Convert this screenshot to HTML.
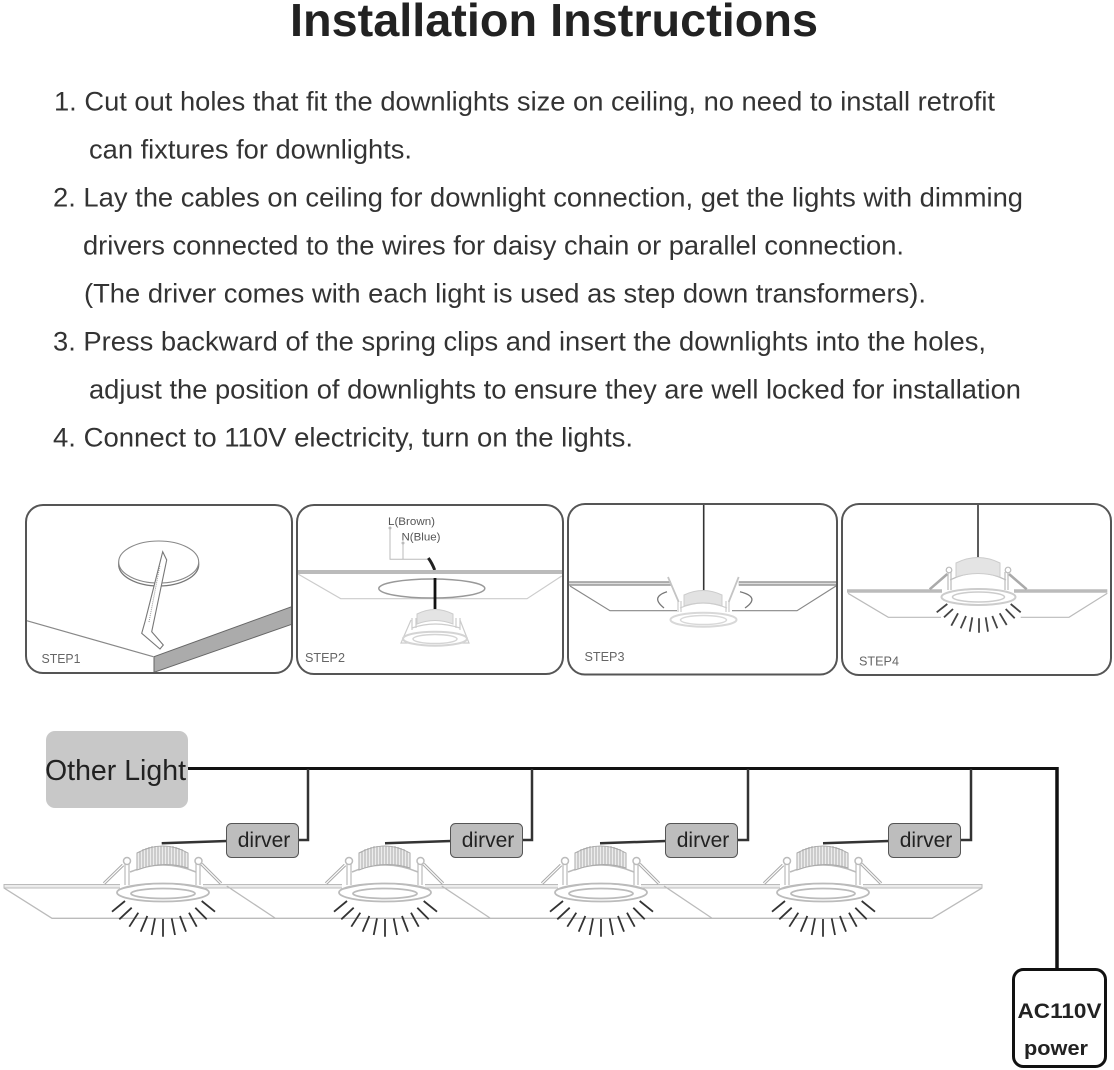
<!DOCTYPE html>
<html><head><meta charset="utf-8"><style>
html,body{margin:0;padding:0;background:#fff}
svg{display:block}
text{font-family:"Liberation Sans",sans-serif}
</style></head><body>
<svg width="1114" height="1070" viewBox="0 0 1114 1070" xmlns="http://www.w3.org/2000/svg">
<defs>
<g id="fix">
<!-- gap in the ceiling -->
<rect x="-43" y="882" width="83" height="8" fill="#fff"/>
<!-- struts -->
<path d="M-40 865L-59 883.500M38.500 864L58 883.500" fill="none" stroke="#aaa" stroke-width="3.200"/>
<path d="M-40 865L-59 883.500M38.500 864L58 883.500" fill="none" stroke="#fff" stroke-width="1.200"/>
<!-- body -->
<path d="M-33 872Q0 858 33 872" fill="none" stroke="#bbb" stroke-width="1.500"/>
<path d="M-38 863V885M-34 863V885M33 863V885M37 863V885" fill="none" stroke="#bbb" stroke-width="1.200"/>
<circle cx="-36" cy="861" r="3.500" fill="#fff" stroke="#bbb" stroke-width="1.500"/>
<circle cx="35.500" cy="861" r="3.500" fill="#fff" stroke="#bbb" stroke-width="1.500"/>
<!-- heatsink -->
<path d="M-26 870V853Q0 839 25 853V868Q0 860-26 870Z" fill="#ededed" stroke="#aaa" stroke-width="1"/>
<path d="M-23 851V869M-20 849V868M-17 848V867M-14 847V866M-11 846V865M-8 846V865M-5 846V865M-2 846V865M1 846V865M4 846V865M7 846V865M10 846V865M13 847V866M16 848V866M19 849V867M22 851V868" stroke="#aaa" stroke-width="1"/>
<!-- rings -->
<ellipse cx="0" cy="892.500" rx="46" ry="9" fill="#fff" stroke="#bbb" stroke-width="1.800"/>
<path d="M-45 890Q0 877 45 890" fill="none" stroke="#bbb" stroke-width="1.200"/>
<ellipse cx="0" cy="893.500" rx="32" ry="5" fill="#fff" stroke="#bbb" stroke-width="1.800"/>
<!-- rays -->
<path d="M-51 911.700L-38 901M-43.700 919.300L-31.300 907.700M-33.700 926.700L-24.700 912.700M-22.300 931.700L-15.700 916M-11.300 935L-8 918.300M0 936.700V919M12 935L8.700 918.300M23 931.700L17 916M33.700 926.700L26 912.700M43.700 919.300L32.300 907.700M52 911.700L38.700 901" fill="none" stroke="#333" stroke-width="1.800"/>
</g>
</defs>

<text x="554" y="36" font-size="46" font-weight="bold" text-anchor="middle" fill="#222" textLength="528" lengthAdjust="spacingAndGlyphs">Installation Instructions</text>

<g font-size="27" fill="#333">
<text x="54" y="110.500" textLength="941" lengthAdjust="spacingAndGlyphs">1. Cut out holes that fit the downlights size on ceiling, no need to install retrofit</text>
<text x="89" y="158.500" textLength="323" lengthAdjust="spacingAndGlyphs">can fixtures for downlights.</text>
<text x="53" y="206.500" textLength="970" lengthAdjust="spacingAndGlyphs">2. Lay the cables on ceiling for downlight connection, get the lights with dimming</text>
<text x="83" y="254.500" textLength="821" lengthAdjust="spacingAndGlyphs">drivers connected to the wires for daisy chain or parallel connection.</text>
<text x="84" y="302.500" textLength="842" lengthAdjust="spacingAndGlyphs">(The driver comes with each light is used as step down transformers).</text>
<text x="53" y="350.500" textLength="933" lengthAdjust="spacingAndGlyphs">3. Press backward of the spring clips and insert the downlights into the holes,</text>
<text x="89" y="398.500" textLength="932" lengthAdjust="spacingAndGlyphs">adjust the position of downlights to ensure they are well locked for installation</text>
<text x="53" y="446.500" textLength="580" lengthAdjust="spacingAndGlyphs">4. Connect to 110V electricity, turn on the lights.</text>
</g>

<!-- STEP 1 -->
<ellipse cx="158.700" cy="564.500" rx="40" ry="21.500" fill="#fff" stroke="#777" stroke-width="1.300"/>
<ellipse cx="158.700" cy="562" rx="40" ry="21" fill="#fff" stroke="#888" stroke-width="1.100"/>
<path d="M162.700 551.700L166.700 560L151.700 631.700L163.300 645L160 649L141.700 633.300L145 621.700Z" fill="#fff" stroke="#777" stroke-width="1.100"/>
<path d="M149 622L160 565" stroke="#999" stroke-width="1" stroke-dasharray="1 1" fill="none"/>
<path d="M26.700 620.700L153.300 656.700" stroke="#888" stroke-width="1.200" fill="none"/>
<path d="M154 656.700L291.700 606.700V624.300L154 672.300Z" fill="#ababab" stroke="#666" stroke-width="1"/>
<rect x="26" y="505" width="266" height="168" rx="17" fill="none" stroke="#555" stroke-width="2"/>
<text x="41.500" y="663" font-size="12.500" fill="#666" textLength="39" lengthAdjust="spacingAndGlyphs">STEP1</text>

<!-- STEP 2 -->
<text x="388" y="525" font-size="11" fill="#555" textLength="47" lengthAdjust="spacingAndGlyphs">L(Brown)</text>
<text x="401.500" y="540.500" font-size="11" fill="#555" textLength="39" lengthAdjust="spacingAndGlyphs">N(Blue)</text>
<path d="M390 528V559.300H428M403 543V559" fill="none" stroke="#bbb" stroke-width="1"/>
<circle cx="390" cy="528" r="1.500" fill="#bbb"/><circle cx="403" cy="543" r="1.500" fill="#bbb"/>
<path d="M428.300 558Q432 563 434.700 570" stroke="#222" stroke-width="3" fill="none"/>
<path d="M298 572H562" stroke="#bbb" stroke-width="4"/>
<path d="M298 574L340.700 598.700H527L561.700 576" stroke="#ccc" stroke-width="1.200" fill="none"/>
<ellipse cx="431.800" cy="588.500" rx="53" ry="9.500" fill="#fff" stroke="#999" stroke-width="1.500"/>
<path d="M435 578V609" stroke="#111" stroke-width="2.800"/>
<path d="M417 624V614Q435 605 453 614V624Q435 617 417 624Z" fill="#e4e4e4" stroke="#ccc"/>
<path d="M412 618V630M416 618V628M460 618V630M456 618V628M412 628Q435 620 460 628M411 620L401 643H469L460 620" fill="none" stroke="#ccc" stroke-width="1.200"/>
<ellipse cx="435" cy="638.700" rx="32" ry="7" fill="#fff" stroke="#d4d4d4" stroke-width="2"/>
<ellipse cx="435" cy="639" rx="22" ry="4.500" fill="#fff" stroke="#d4d4d4" stroke-width="1.500"/>
<rect x="297" y="505" width="266" height="169" rx="17" fill="none" stroke="#555" stroke-width="2"/>
<text x="305" y="662" font-size="12.500" fill="#666" textLength="40" lengthAdjust="spacingAndGlyphs">STEP2</text>

<!-- STEP 3 -->
<path d="M703.700 504V591" stroke="#333" stroke-width="1.600"/>
<path d="M568.700 583.500H671M738.700 583.500H836" stroke="#999" stroke-width="4.500"/>
<path d="M568.700 583.500H671M738.700 583.500H836" stroke="#ddd" stroke-width="1.500"/>
<path d="M570 586L610 610.700H677M732 610.700H797L836 586" stroke="#888" stroke-width="1.200" fill="none"/>
<path d="M684 606V595Q703 586 722 595V606Q703 600 684 606Z" fill="#e2e2e2" stroke="#ccc"/>
<path d="M678 601V612M681 601V612M726 601V612M729 601V612M680 608Q703 598 727 608" fill="none" stroke="#ccc" stroke-width="1.200"/>
<path d="M668 577L678.700 602M738.700 577L728.700 602" stroke="#c4c4c4" stroke-width="1.800" fill="none"/>
<ellipse cx="703.500" cy="619.700" rx="33" ry="7" fill="#fff" stroke="#d8d8d8" stroke-width="2"/>
<ellipse cx="703.500" cy="620" rx="23" ry="4.500" fill="#fff" stroke="#d8d8d8" stroke-width="1.500"/>
<path d="M667 591.700Q650 597 664 608M740 591.700Q761 597 745 608" stroke="#777" stroke-width="1.300" fill="none"/>
<rect x="568" y="504" width="269" height="170.500" rx="17" fill="none" stroke="#555" stroke-width="2"/>
<text x="584.500" y="661" font-size="12.500" fill="#666" textLength="40" lengthAdjust="spacingAndGlyphs">STEP3</text>

<!-- STEP 4 -->
<path d="M978 504V559" stroke="#333" stroke-width="1.600"/>
<path d="M847 591H942M1014 591H1107.300" stroke="#bbb" stroke-width="3.500"/>
<path d="M848 593.300L888.300 617.300H941M1020.700 617.300H1069L1107.300 593.300" stroke="#bbb" stroke-width="1.200" fill="none"/>
<path d="M947.300 574L929.700 589.300M1009 574L1026.700 589.300" stroke="#aaa" stroke-width="2.500" fill="none"/>
<path d="M948 570V590M951 572V590M1008 570V590M1005 572V590M950 580Q978 566 1006 580" fill="none" stroke="#bbb" stroke-width="1.200"/>
<circle cx="949" cy="570" r="2.800" fill="#fff" stroke="#bbb" stroke-width="1.200"/>
<circle cx="1008" cy="570" r="2.800" fill="#fff" stroke="#bbb" stroke-width="1.200"/>
<path d="M956 577V563Q978 552 1000 563V577Q978 570 956 577Z" fill="#e4e4e4" stroke="#ccc"/>
<ellipse cx="978.500" cy="597" rx="37" ry="8" fill="#fff" stroke="#ccc" stroke-width="2"/>
<ellipse cx="978.500" cy="597" rx="26" ry="5" fill="#fff" stroke="#ccc" stroke-width="1.500"/>
<path d="M936.700 612.300L947.300 604M944 617.300L953 609M951.300 625.700L958 613.300M960.700 628.300L966 616M969.700 631.700L972.300 617.300M979 632.700V618.300M988 631.700L985.700 617.300M997.300 628.300L992.300 616M1006.700 625L999.700 613.300M1014.700 618.300L1005.700 609M1020.700 612.300L1010.700 604" fill="none" stroke="#444" stroke-width="1.800"/>
<rect x="842" y="504" width="269" height="171" rx="17" fill="none" stroke="#555" stroke-width="2"/>
<text x="859" y="665.700" font-size="12.500" fill="#666" textLength="40" lengthAdjust="spacingAndGlyphs">STEP4</text>

<!-- Wiring -->
<rect x="46" y="731" width="142" height="77" rx="9" fill="#c8c8c8"/>
<text x="45" y="780" font-size="29" fill="#222" textLength="141" lengthAdjust="spacingAndGlyphs">Other Light</text>
<path d="M188 768.500H1057" fill="none" stroke="#111" stroke-width="3"/>
<path d="M1057 767V968" fill="none" stroke="#111" stroke-width="3.500"/>

<!-- panels -->
<path d="M4 884.500H982V888H4Z" fill="#ececec" stroke="#bbb" stroke-width="1"/>
<path d="M4 888L52 918.300H932L982 888M226.700 886L275 918M441.700 886L490 918M664 886L711.700 918" fill="none" stroke="#bbb" stroke-width="1.300"/>

<g fill="none" stroke="#333" stroke-width="2.500">
<path d="M308 769V840H298M227 841L161.700 843.300"/>
<path d="M532 769V840H522M451 841L385 843.300"/>
<path d="M748 769V840H738M666 841L600 843.300"/>
<path d="M971 769V840H961M889 841L823 843.300"/>
</g>

<use href="#fix" x="163"/>
<use href="#fix" x="385"/>
<use href="#fix" x="601"/>
<use href="#fix" x="823"/>

<g fill="#bdbdbd" stroke="#555" stroke-width="1">
<rect x="226.500" y="823.500" width="72" height="34" rx="5"/>
<rect x="450.500" y="823.500" width="72" height="34" rx="5"/>
<rect x="665.500" y="823.500" width="72" height="34" rx="5"/>
<rect x="888.500" y="823.500" width="72" height="34" rx="5"/>
</g>
<g font-size="21" fill="#222" text-anchor="middle">
<text x="264" y="847">dirver</text>
<text x="488" y="847">dirver</text>
<text x="703" y="847">dirver</text>
<text x="926" y="847">dirver</text>
</g>

<rect x="1013.500" y="969.500" width="92" height="97" rx="10" fill="#fff" stroke="#111" stroke-width="3"/>
<text x="1059.500" y="1018" font-size="21.500" font-weight="bold" fill="#222" text-anchor="middle" textLength="84" lengthAdjust="spacingAndGlyphs">AC110V</text>
<text x="1056" y="1055" font-size="20" font-weight="bold" fill="#222" text-anchor="middle" textLength="64" lengthAdjust="spacingAndGlyphs">power</text>
</svg>
</body></html>
